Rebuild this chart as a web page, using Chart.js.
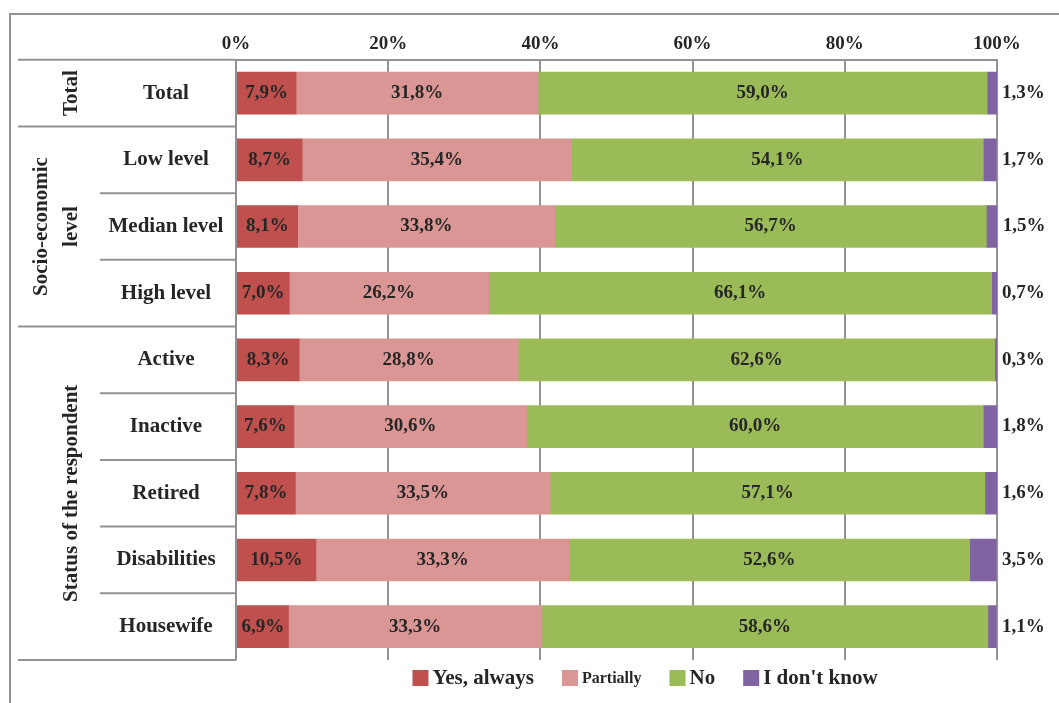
<!DOCTYPE html>
<html>
<head>
<meta charset="utf-8">
<script src="https://cdn.jsdelivr.net/npm/chart.js@4.4.1/dist/chart.umd.min.js"></script>
<style>
  body { margin: 0; background: #fff; }
  #wrap { width: 1059px; height: 703px; position: relative; }
</style>
</head>
<body>
<div id="wrap"><canvas id="chart"></canvas></div>
<script>
const categories = ['Total', 'Low level', 'Median level', 'High level', 'Active', 'Inactive', 'Retired', 'Disabilities', 'Housewife'];
const groupNames = [['Total'], ['Socio-economic', 'level'], ['Status of the respondent']];
const groupSizes = [1, 3, 5];

const yesAlways = [7.9, 8.7, 8.1, 7.0, 8.3, 7.6, 7.8, 10.5, 6.9];
const partially = [31.8, 35.4, 33.8, 26.2, 28.8, 30.6, 33.5, 33.3, 33.3];
const no = [59.0, 54.1, 56.7, 66.1, 62.6, 60.0, 57.1, 52.6, 58.6];
const dontKnow = [1.3, 1.7, 1.5, 0.7, 0.3, 1.8, 1.6, 3.5, 1.1];

const seriesNames = ['Yes, always', 'Partially', 'No', "I don't know"];
const seriesColors = ['#C0504D', '#DA9694', '#9BBB59', '#8064A2'];
const legendSizes = [21, 16, 21, 21];

const FONT = "'Liberation Serif', 'DejaVu Serif', serif";
const TEXT = '#262626';
const LINE = '#929292';

Chart.defaults.font.family = FONT;
Chart.defaults.color = TEXT;

const fmt = v => v.toFixed(1).replace('.', ',') + '%';

// table on the left, value labels, frame and legend
const extras = {
  id: 'extras',
  afterDraw(chart) {
    const ctx = chart.ctx;
    const area = chart.chartArea;
    const y = chart.scales.y;
    const rowEdge = i => (y.getPixelForValue(i) + y.getPixelForValue(i + 1)) / 2;

    ctx.save();
    ctx.strokeStyle = LINE;
    ctx.lineWidth = 2;

    // outer frame
    ctx.beginPath();
    ctx.moveTo(10, 703);
    ctx.lineTo(10, 14);
    ctx.lineTo(1059, 14);
    ctx.stroke();

    // table lines
    ctx.beginPath();
    ctx.moveTo(18, area.top); ctx.lineTo(area.left, area.top);
    ctx.moveTo(18, area.bottom); ctx.lineTo(area.left, area.bottom);
    ctx.moveTo(area.left, area.top); ctx.lineTo(area.left, area.bottom);
    let start = 0;
    groupSizes.forEach((n, g) => {
      for (let i = start; i < start + n - 1; i++) {
        const ly = rowEdge(i);
        ctx.moveTo(100, ly); ctx.lineTo(area.left, ly);
      }
      if (g < groupSizes.length - 1) {
        const ly = rowEdge(start + n - 1);
        ctx.moveTo(18, ly); ctx.lineTo(area.left, ly);
      }
      start += n;
    });
    ctx.stroke();

    ctx.fillStyle = TEXT;
    ctx.textBaseline = 'middle';

    // row labels
    ctx.font = 'bold 21px ' + FONT;
    ctx.textAlign = 'center';
    categories.forEach((c, i) => ctx.fillText(c, 166, y.getPixelForValue(i)));

    // group labels, rotated
    start = 0;
    groupSizes.forEach((n, g) => {
      const top = start === 0 ? area.top : rowEdge(start - 1);
      const bot = start + n >= categories.length ? area.bottom : rowEdge(start + n - 1);
      const lines = groupNames[g];
      lines.forEach((t, k) => {
        ctx.save();
        ctx.translate(72 - (lines.length - 1 - k) * 30, (top + bot) / 2);
        ctx.rotate(-Math.PI / 2);
        ctx.fillText(t, 0, 0);
        ctx.restore();
      });
      start += n;
    });

    // value labels
    ctx.font = 'bold 19px ' + FONT;
    chart.data.datasets.forEach((ds, d) => {
      chart.getDatasetMeta(d).data.forEach((bar, i) => {
        const v = ds.data[i];
        if (d < 3) {
          ctx.textAlign = 'center';
          ctx.fillText(fmt(v), (bar.x + bar.base) / 2, bar.y);
        } else {
          ctx.textAlign = 'left';
          ctx.fillText(fmt(v), Math.max(bar.x, area.right) + 5, bar.y);
        }
      });
    });

    // legend
    const items = seriesNames.map((s, k) => {
      ctx.font = 'bold ' + legendSizes[k] + 'px ' + FONT;
      return { s, k, w: 20 + ctx.measureText(s).width };
    });
    const gap = 28;
    const total = items.reduce((a, it) => a + it.w, 0) + gap * (items.length - 1);
    let lx = 645 - total / 2;
    const ly = 678;
    items.forEach(it => {
      ctx.fillStyle = seriesColors[it.k];
      ctx.fillRect(lx, ly - 8, 16, 16);
      ctx.fillStyle = TEXT;
      ctx.font = 'bold ' + legendSizes[it.k] + 'px ' + FONT;
      ctx.textAlign = 'left';
      ctx.fillText(it.s, lx + 20, ly + 1);
      lx += it.w + gap;
    });
    ctx.restore();
  }
};

const values = [yesAlways, partially, no, dontKnow];

new Chart(document.getElementById('chart'), {
  type: 'bar',
  data: {
    labels: categories,
    datasets: values.map((arr, k) => ({
      label: seriesNames[k],
      data: arr,
      backgroundColor: seriesColors[k],
      borderWidth: 0,
      barThickness: 42
    }))
  },
  options: {
    indexAxis: 'y',
    responsive: true,
    maintainAspectRatio: false,
    animation: false,
    layout: {
      padding: { left: 236, right: 62, top: 29, bottom: 43 }
    },
    plugins: {
      legend: { display: false },
      tooltip: { enabled: false }
    },
    scales: {
      x: {
        position: 'top',
        stacked: true,
        min: 0,
        max: 100,
        ticks: {
          stepSize: 20,
          padding: 4,
          color: TEXT,
          font: { size: 19, weight: 'bold' },
          callback: v => v + '%'
        },
        grid: { color: LINE, lineWidth: 2, drawTicks: false },
        border: { display: true, color: LINE, width: 2 }
      },
      y: {
        stacked: true,
        display: false
      }
    }
  },
  plugins: [extras]
});
</script>
</body>
</html>
